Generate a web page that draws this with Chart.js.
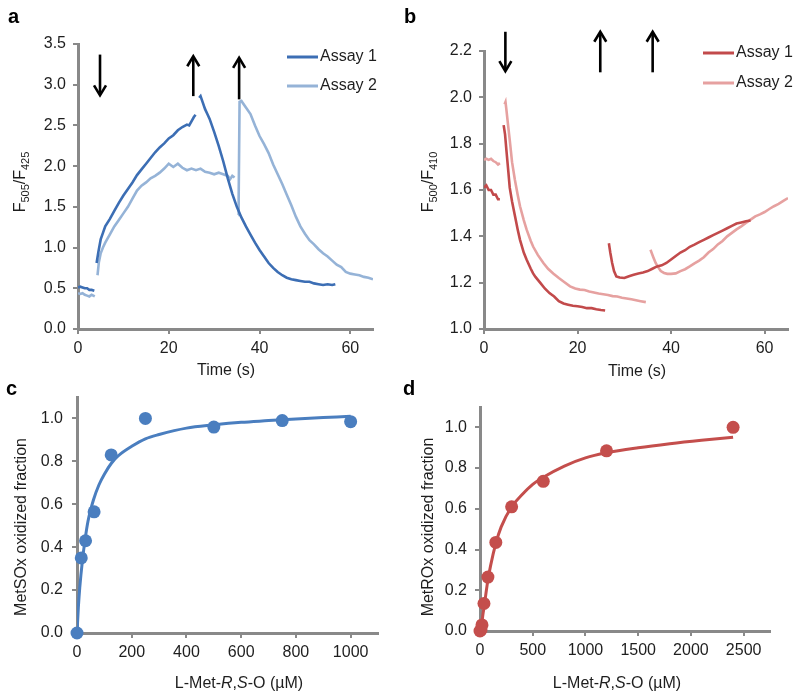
<!DOCTYPE html>
<html>
<head>
<meta charset="utf-8">
<script src="https://cdn.jsdelivr.net/npm/chart.js@4/dist/chart.umd.min.js"></script>
<style>
  html, body { margin: 0; padding: 0; background: #ffffff; }
  #wrap { position: relative; width: 800px; height: 699px; }
  #wrap canvas { position: absolute; left: 0; top: 0; }
</style>
</head>
<body>
<div id="wrap">
  <canvas id="ca" width="800" height="699"></canvas>
  <canvas id="cb" width="800" height="699"></canvas>
  <canvas id="cc" width="800" height="699"></canvas>
  <canvas id="cd" width="800" height="699"></canvas>
</div>
<script>
// ---------------- DATA ----------------
// Panel a : F505/F425 vs time (s); null = break in the trace
const aAssay1Time  = [0,0.5,1,1.5,2,2.5,3,3.6, 3.9, 4.1,4.5,5,5.5,6,7,8,9,10,11,12,13,14,15,16,17,18,19,20,21,22,23,24,24.5,25,25.5,25.9, 26.3,
  26.7,27,27.5,28,28.5,29,30,31,32,33,34,35,36,37,38,39,40,41,42,43,44,45,46,47,48,49,50,51,52,53,54,55,56,56.7];
const aAssay1Ratio = [0.51,0.52,0.51,0.50,0.50,0.48,0.48,0.47, null,
  0.81,0.95,1.10,1.18,1.26,1.35,1.45,1.55,1.64,1.72,1.80,1.89,1.96,2.03,2.10,2.17,2.23,2.28,2.34,2.38,2.44,2.48,2.51,2.50,2.55,2.60,2.63, null,
  2.84,2.86,2.78,2.70,2.64,2.58,2.42,2.25,2.06,1.85,1.66,1.50,1.37,1.26,1.16,1.06,0.97,0.89,0.81,0.75,0.70,0.66,0.63,0.61,0.60,0.59,0.58,0.58,0.56,0.55,0.54,0.55,0.54,0.55];
const aAssay2Time  = [0,0.5,1,1.5,2,2.5,3,3.7, 4.0, 4.3,4.6,5,5.5,6,7,8,9,10,11,12,13,14,15,16,17,18,19,20,21,22,23,24,25,26,27,28,29,30,31,32,33,33.5,34,34.5, 34.9,
  35.3,35.4,35.6,36,37,38,39,40,41,42,43,44,45,46,47,48,49,50,51,52,53,54,55,56,57,58,59,60,61,62,63,64,65];
const aAssay2Ratio = [0.44,0.43,0.44,0.42,0.41,0.40,0.42,0.40, null,
  0.66,0.82,0.93,1.00,1.06,1.16,1.26,1.34,1.42,1.50,1.60,1.70,1.76,1.80,1.85,1.88,1.92,1.97,2.03,1.99,2.03,1.98,1.95,1.97,1.95,1.97,1.93,1.92,1.90,1.92,1.90,1.88,1.84,1.88,1.86, null,
  1.40,1.60,2.79,2.80,2.72,2.64,2.50,2.37,2.27,2.16,2.02,1.90,1.78,1.65,1.52,1.38,1.26,1.17,1.09,1.04,0.98,0.93,0.89,0.84,0.79,0.76,0.70,0.68,0.67,0.66,0.64,0.63,0.61];
// Panel b : F500/F410 vs time (s)
const bAssay1Time  = [0,0.5,1,1.5,2,2.5,3,3.4, 3.8,
  4.2,4.5,4.8,5.2,5.5,6,6.6,7.2,7.7,8.5,9.1,10,10.5,11,12,13,14,15,16,17,18,19,20,21,22,23,24,25,25.9, 26.3,
  26.7,27,27.4,27.8,28.3,29,30,31,32,33,34,35,36,37,38,39,40,41,42,43,44,45,46,47,48,49,50,51,52,53,54,55,56,57];
const bAssay1Ratio = [1.61,1.62,1.60,1.60,1.58,1.58,1.56,1.56, null,
  1.88,1.84,1.77,1.68,1.61,1.55,1.49,1.43,1.385,1.33,1.30,1.26,1.24,1.225,1.20,1.175,1.155,1.14,1.12,1.11,1.105,1.10,1.098,1.095,1.09,1.09,1.085,1.082,1.08, null,
  1.37,1.33,1.285,1.25,1.227,1.222,1.22,1.228,1.234,1.24,1.244,1.25,1.26,1.27,1.275,1.285,1.30,1.315,1.33,1.34,1.355,1.364,1.375,1.385,1.395,1.405,1.415,1.425,1.435,1.445,1.455,1.46,1.465,1.468];
const bAssay2Time  = [0,0.5,1,1.5,2,2.5,3,3.4, 3.9,
  4.4,4.6,4.8,5.2,5.5,6,6.6,7.2,7.7,8.5,9.1,10,10.5,11.5,12.7,13.7,14.8,16,17,18.4,19.5,20.5,21.5,22.5,23.5,24.5,25.5,26.5,27.5,28.5,29.5,30.5,31.5,32.5,33.5,34.6, 35.1,
  35.6,36.2,36.7,37.3,37.8,38.5,39.2,40,41,42,43,44,45,46,47,48,49,50,51,52,53,54,55,56,57,58,59,60,61,62,63,64,65];
const bAssay2Ratio = [1.73,1.735,1.73,1.735,1.725,1.72,1.71,1.716, null,
  1.97,1.98,1.945,1.87,1.816,1.72,1.644,1.58,1.53,1.47,1.43,1.38,1.356,1.32,1.285,1.26,1.24,1.22,1.205,1.184,1.175,1.17,1.168,1.162,1.158,1.153,1.15,1.147,1.142,1.14,1.135,1.132,1.128,1.124,1.12,1.116, null,
  1.342,1.31,1.285,1.265,1.25,1.242,1.238,1.238,1.24,1.25,1.258,1.27,1.283,1.295,1.31,1.33,1.345,1.365,1.38,1.40,1.415,1.43,1.443,1.458,1.472,1.486,1.495,1.505,1.518,1.53,1.54,1.553,1.565];
// Arrows (time, start value, end value)
const aArrowTime = [4.85, 25.4, 35.5];
const aArrowFrom = [3.37, 2.86, 2.82];
const aArrowTo   = [2.87, 3.35, 3.33];
const bArrowTime = [4.57, 24.86, 36.06];
const bArrowFrom = [2.283, 2.108, 2.108];
const bArrowTo   = [2.113, 2.283, 2.283];
// Panel c : MetSOx
const cConc     = [0, 15.6, 31.25, 62.5, 125, 250, 500, 750, 1000];
const cFraction = [0, 0.35, 0.43, 0.565, 0.83, 1.0, 0.96, 0.99, 0.985];
const cFitConc  = [0, 5, 10, 20, 30, 40, 60, 80, 100, 125, 150, 200, 250, 300, 400, 500, 600, 700, 800, 900, 1000];
const cFitFrac  = [0, 0.12, 0.21, 0.34, 0.44, 0.52, 0.62, 0.69, 0.74, 0.79, 0.825, 0.87, 0.905, 0.925, 0.955, 0.97, 0.982, 0.99, 0.998, 1.004, 1.01];
// Panel d : MetROx
const dConc     = [0, 9.4, 18.75, 37.5, 75, 150, 300, 600, 1200, 2400];
const dFraction = [0, 0.005, 0.03, 0.135, 0.265, 0.435, 0.61, 0.735, 0.885, 1.0];
const dFitConc  = [0, 10, 20, 30, 40, 50, 75, 100, 150, 200, 300, 400, 500, 600, 800, 1000, 1200, 1500, 1800, 2100, 2400];
const dFitFrac  = [0, 0.02, 0.05, 0.09, 0.12, 0.16, 0.25, 0.32, 0.43, 0.51, 0.61, 0.67, 0.72, 0.755, 0.81, 0.85, 0.875, 0.90, 0.92, 0.937, 0.952];
// Tick values
const aXTicks = [0, 20, 40, 60];
const aYTicks = [0, 0.5, 1.0, 1.5, 2.0, 2.5, 3.0, 3.5];
const bXTicks = [0, 20, 40, 60];
const bYTicks = [1.0, 1.2, 1.4, 1.6, 1.8, 2.0, 2.2];
const cXTicks = [0, 200, 400, 600, 800, 1000];
const cYTicks = [0, 0.2, 0.4, 0.6, 0.8, 1.0];
const dXTicks = [0, 500, 1000, 1500, 2000, 2500];
const dYTicks = [0, 0.2, 0.4, 0.6, 0.8, 1.0];

// ---------------- STYLE ----------------
const FONT = '"Liberation Sans", Arial, Helvetica, sans-serif';
const TEXT = '#1e1e1e';
const AXIS = '#898989';
const BLUE_D = '#3C6EB4', BLUE_L = '#95B3D7', BLUE_M = '#4A7EBF';
const RED_D = '#C24A4B', RED_L = '#E6A1A0', RED_M = '#C44E4C';

function pts(xs, ys) { return xs.map((x, i) => ({ x: x, y: ys[i] })); }

function partFont(p) {
  return (p.italic ? 'italic ' : '') + (p.bold ? 'bold ' : '') + (p.size || 16) + 'px ' + FONT;
}
function drawRich(ctx, parts, x, y, rotate) {
  ctx.save();
  ctx.translate(x, y);
  if (rotate) ctx.rotate(-Math.PI / 2);
  let w = 0;
  parts.forEach(p => { ctx.font = partFont(p); w += ctx.measureText(p.t).width; });
  let cx = -w / 2;
  ctx.fillStyle = TEXT;
  ctx.textBaseline = 'alphabetic';
  ctx.textAlign = 'left';
  parts.forEach(p => {
    ctx.font = partFont(p);
    ctx.fillText(p.t, cx, p.dy || 0);
    cx += ctx.measureText(p.t).width;
  });
  ctx.restore();
}

const decorPlugin = {
  id: 'decor',
  afterDraw(chart, args, o) {
    const ctx = chart.ctx;
    const xs = chart.scales.x, ys = chart.scales.y;
    if (o.arrows) {
      const A = o.arrows;
      ctx.save();
      ctx.strokeStyle = '#000';
      ctx.lineWidth = 2.6;
      ctx.lineCap = 'butt';
      A.t.forEach((t, i) => {
        const px = xs.getPixelForValue(t);
        const y1 = ys.getPixelForValue(A.from[i]);
        const y2 = ys.getPixelForValue(A.to[i]);
        const dir = y2 > y1 ? 1 : -1;
        ctx.beginPath();
        ctx.moveTo(px, y1);
        ctx.lineTo(px, y2 - dir * 1);
        ctx.stroke();
        ctx.beginPath();
        ctx.moveTo(px - 6, y2 - dir * 10);
        ctx.lineTo(px, y2);
        ctx.lineTo(px + 6, y2 - dir * 10);
        ctx.stroke();
      });
      ctx.restore();
    }
    if (o.legend) {
      const L = o.legend;
      ctx.save();
      L.items.forEach((it, i) => {
        const y = L.y[i];
        ctx.strokeStyle = it.color;
        ctx.lineWidth = 3;
        ctx.beginPath();
        ctx.moveTo(L.x, y);
        ctx.lineTo(L.x + L.len, y);
        ctx.stroke();
        ctx.fillStyle = TEXT;
        ctx.font = '16px ' + FONT;
        ctx.textBaseline = 'middle';
        ctx.textAlign = 'left';
        ctx.fillText(it.label, L.x + L.len + 2, y);
      });
      ctx.restore();
    }
    if (o.yTitle) drawRich(ctx, o.yTitle.parts, o.yTitle.x, o.yTitle.y, true);
    if (o.xTitle) drawRich(ctx, o.xTitle.parts, o.xTitle.x, o.xTitle.y, false);
    if (o.letter) {
      ctx.save();
      ctx.fillStyle = '#000';
      ctx.font = 'bold 20px ' + FONT;
      ctx.textBaseline = 'alphabetic';
      ctx.textAlign = 'left';
      ctx.fillText(o.letter.t, o.letter.x, o.letter.y);
      ctx.restore();
    }
  }
};

function axisCfg(min, max, tickVals, yAxis, size, pad) {
  return {
    type: 'linear', min: min, max: max,
    afterFit: s => { if (yAxis) s.width = size; else s.height = size; },
    afterBuildTicks: s => { s.ticks = tickVals.map(v => ({ value: v })); },
    border: { display: true, color: AXIS, width: 3 },
    grid: { display: true, drawOnChartArea: false, drawTicks: true, tickLength: 5, color: AXIS, lineWidth: 2 },
    ticks: {
      color: TEXT, padding: pad, autoSkip: false, maxRotation: 0,
      font: { family: FONT, size: 16 },
      callback: v => yAxis ? Number(v).toFixed(1) : String(Math.round(v))
    },
    title: { display: false }
  };
}

function makeChart(id, datasets, sc, pad, decor) {
  return new Chart(document.getElementById(id), {
    type: 'line',
    data: { datasets: datasets },
    options: {
      responsive: false, animation: false, events: [],
      layout: { padding: pad },
      plugins: { legend: { display: false }, tooltip: { enabled: false }, decor: decor },
      scales: {
        x: axisCfg(sc.xmin, sc.xmax, sc.xticks, false, 40, 5),
        y: axisCfg(sc.ymin, sc.ymax, sc.yticks, true, 60, sc.ypad)
      }
    },
    plugins: [decorPlugin]
  });
}

function traceDs(xs, ys, color) {
  return { data: pts(xs, ys), borderColor: color, backgroundColor: color, borderWidth: 2.6,
           pointRadius: 0, tension: 0, spanGaps: false, fill: false };
}
function dotsDs(xs, ys, color) {
  return { data: pts(xs, ys), showLine: false, borderColor: color, backgroundColor: color,
           pointRadius: 6.5, pointBorderWidth: 0, clip: false };
}
function fitDs(xs, ys, color) {
  return { data: pts(xs, ys), borderColor: color, borderWidth: 3, pointRadius: 0,
           tension: 0.3, cubicInterpolationMode: 'monotone', fill: false };
}

const SUB = 11;
// Panel a
makeChart('ca',
  [traceDs(aAssay1Time, aAssay1Ratio, BLUE_D), traceDs(aAssay2Time, aAssay2Ratio, BLUE_L)],
  { xmin: 0, xmax: 65, xticks: aXTicks, ymin: 0, ymax: 3.5, yticks: aYTicks, ypad: 7 },
  { left: 18, right: 427, top: 44, bottom: 330 },
  {
    arrows: { t: aArrowTime, from: aArrowFrom, to: aArrowTo },
    legend: { x: 287, len: 31, y: [57, 86], items: [{ label: 'Assay 1', color: BLUE_D }, { label: 'Assay 2', color: BLUE_L }] },
    yTitle: { x: 25, y: 182, parts: [{ t: 'F' }, { t: '505', size: SUB, dy: 4 }, { t: '/F' }, { t: '425', size: SUB, dy: 4 }] },
    xTitle: { x: 226, y: 375, parts: [{ t: 'Time (s)' }] },
    letter: { t: 'a', x: 8, y: 23 }
  });
// Panel b
makeChart('cb',
  [traceDs(bAssay1Time, bAssay1Ratio, RED_D), traceDs(bAssay2Time, bAssay2Ratio, RED_L)],
  { xmin: 0, xmax: 65, xticks: bXTicks, ymin: 1.0, ymax: 2.2, yticks: bYTicks, ypad: 7 },
  { left: 424, right: 12, top: 51, bottom: 330 },
  {
    arrows: { t: bArrowTime, from: bArrowFrom, to: bArrowTo },
    legend: { x: 703, len: 31, y: [53, 83], items: [{ label: 'Assay 1', color: RED_D }, { label: 'Assay 2', color: RED_L }] },
    yTitle: { x: 433, y: 182, parts: [{ t: 'F' }, { t: '500', size: SUB, dy: 4 }, { t: '/F' }, { t: '410', size: SUB, dy: 4 }] },
    xTitle: { x: 637, y: 376, parts: [{ t: 'Time (s)' }] },
    letter: { t: 'b', x: 404, y: 23 }
  });
// Panel c
makeChart('cc',
  [dotsDs(cConc, cFraction, BLUE_M), fitDs(cFitConc, cFitFrac, BLUE_M)],
  { xmin: 0, xmax: 1100, xticks: cXTicks, ymin: 0, ymax: 1.1, yticks: cYTicks, ypad: 9 },
  { left: 17, right: 422, top: 397, bottom: 26 },
  {
    yTitle: { x: 26, y: 527, parts: [{ t: 'MetSOx oxidized fraction' }] },
    xTitle: { x: 239, y: 688, parts: [{ t: 'L-Met-' }, { t: 'R', italic: true }, { t: ',' }, { t: 'S', italic: true }, { t: '-O (µM)' }] },
    letter: { t: 'c', x: 6, y: 395 }
  });
// Panel d
makeChart('cd',
  [dotsDs(dConc, dFraction, RED_M), fitDs(dFitConc, dFitFrac, RED_M)],
  { xmin: 0, xmax: 2750, xticks: dXTicks, ymin: 0, ymax: 1.1, yticks: dYTicks, ypad: 8 },
  { left: 420, right: 30, top: 407, bottom: 28 },
  {
    yTitle: { x: 433, y: 527, parts: [{ t: 'MetROx oxidized fraction' }] },
    xTitle: { x: 617, y: 688, parts: [{ t: 'L-Met-' }, { t: 'R', italic: true }, { t: ',' }, { t: 'S', italic: true }, { t: '-O (µM)' }] },
    letter: { t: 'd', x: 403, y: 395 }
  });
</script>
</body>
</html>
